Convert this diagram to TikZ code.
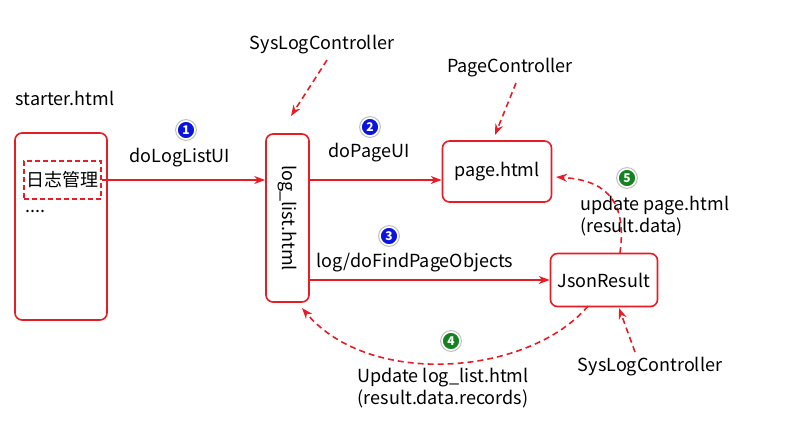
\documentclass[tikz,border=0pt]{standalone}
\usepackage{fontspec}
\setmainfont{Noto Sans CJK SC}
\usepackage{xcolor}
\usetikzlibrary{arrows.meta,calc}
\definecolor{linered}{RGB}{232,28,36}
\definecolor{numblue}{RGB}{10,20,220}
\definecolor{numgreen}{RGB}{20,130,30}
\tikzset{
  box/.style={draw=linered, line width=1.6pt, rounded corners=7pt, fill=white},
  flow/.style={draw=linered, line width=1.6pt, -{Stealth[length=11pt, width=8pt]}},
  dashflow/.style={flow, dash pattern=on 6pt off 4pt},
  num/.style={circle, inner sep=0pt, minimum size=18pt, draw=white, line width=1.6pt,
    preaction={draw=black!25, line width=3.8pt}, text=white, font=\fontsize{12}{12}\bfseries},
  lbl/.style={font=\fontsize{18}{22}\selectfont, inner sep=1pt}
}
\begin{document}
\begin{tikzpicture}[x=1pt, y=-1pt]
\useasboundingbox (0,0) rectangle (785,440);
% left page
\node[lbl] (startlbl) at (65,98) {starter.html};
\node[box, minimum width=92, minimum height=187] (starter) at (61,226.5) {};
\node[lbl, draw=linered, line width=1.4pt, dash pattern=on 5pt off 3pt, inner sep=0pt, minimum width=77, minimum height=38] (menu) at (62.5,180) {日志管理};
\node[lbl, anchor=base west] (dots) at (24,212) {....};
% log list page
\node[box, minimum width=43, minimum height=168] (loglist) at (287.5,218) {};
\node[lbl, rotate=-90] (loglisttxt) at (loglist) {log\_list.html};
% page and json result
\node[box, lbl, minimum width=109, minimum height=61] (page) at (497,171.5) {page.html};
\node[box, lbl, minimum width=107, minimum height=53] (json) at (604,280) {JsonResult};
% controllers
\node[lbl] (ctrlA) at (322,45) {SysLogController};
\node[lbl] (ctrlB) at (510,68) {PageController};
\node[lbl] (ctrlC) at (650,367) {SysLogController};
\coordinate (ctrlAend) at (291,116);
\coordinate (ctrlBend) at (495,135);
\coordinate (ctrlCend) at (619,308);
\draw[dashflow] (327,60) -- (ctrlAend);
\draw[dashflow] (516,83) -- (ctrlBend);
\draw[dashflow] (635,352) -- (ctrlCend);
% requests
\draw[flow] (menu.east) -- (loglist.west |- menu.east);
\draw[flow] (loglist.east |- menu.east) -- (page.west |- menu.east);
\draw[flow] (loglist.east |- json.west) -- (json.west);
% responses
\coordinate (backA) at (588,306);
\coordinate (backB) at (302,308);
\draw[dashflow] (backA) .. controls (530,375) and (370,389) .. (backB);
\coordinate (upA) at (620,253);
\coordinate (upB) at (556,177);
\draw[dashflow] (upA) .. controls (628,195) and (600,180) .. (upB);
% labels
\node[lbl] (l1) at (180,158) {doLogListUI};
\node[lbl] (l2) at (369,153) {doPageUI};
\node[lbl] (l3) at (415,263) {log/doFindPageObjects};
\node[lbl, align=left, anchor=west] (l5) at (579,216.5) {update page.html\\(result.data)};
\node[lbl, align=center] (l4) at (443,388) {Update log\_list.html\\(result.data.records)};
% step numbers
\node[num, fill=numblue] (n1) at (186,130) {1};
\node[num, fill=numblue] (n2) at (370,127) {2};
\node[num, fill=numblue] (n3) at (389,236) {3};
\node[num, fill=numgreen] (n4) at (451,341) {4};
\node[num, fill=numgreen] (n5) at (627,178) {5};
\end{tikzpicture}
\end{document}
